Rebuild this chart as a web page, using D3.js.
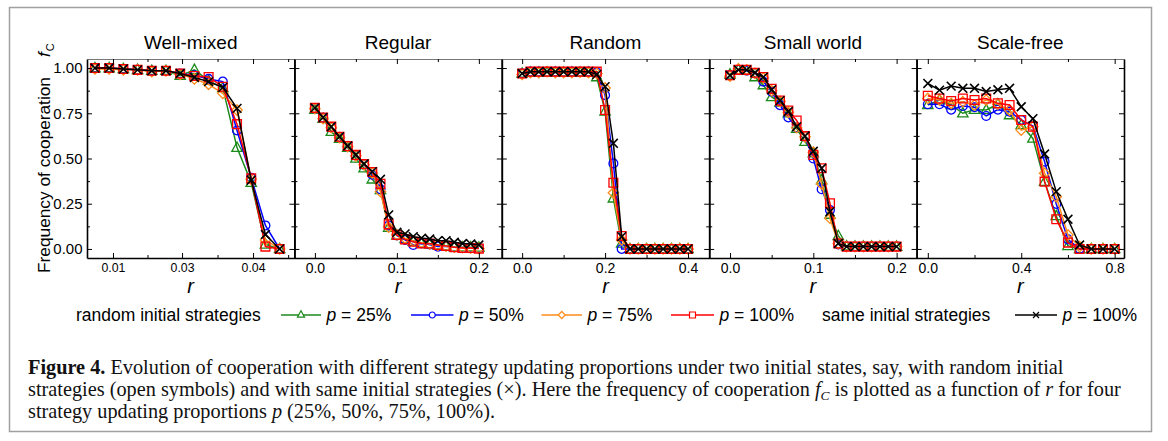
<!DOCTYPE html>
<html>
<head>
<meta charset="utf-8">
<script src="https://cdn.jsdelivr.net/npm/d3@7"></script>
<style>
  body { margin: 0; background: #fff; }
  svg { display: block; font-family: "Liberation Sans", Arial, sans-serif; }
</style>
</head>
<body>
<div id="chart"></div>
<script>
// ---- data ----
var panelNames = ["Well-mixed", "Regular", "Random", "Small world", "Scale-free"];

// well-mixed points sit evenly spaced, so they are indexed by position
var wmR = [0, 1, 2, 3, 4, 5, 6, 7, 8, 9, 10, 11, 12, 13];
var wmTickPos = [1.27, 6.13, 11.13];
var wmTickLabels = ["0.01", "0.03", "0.04"];
var wmMinorPos = [3.7, 8.63, 13.6];
var wmP25 = [1.00, 1.00, 0.995, 0.99, 0.985, 0.985, 0.958, 0.99, 0.93, 0.89, 0.56, 0.366, 0.025, 0.0];
var wmP50 = [1.00, 1.00, 0.995, 0.99, 0.985, 0.985, 0.97, 0.96, 0.94, 0.925, 0.655, 0.394, 0.13, 0.0];
var wmP75 = [0.995, 0.995, 0.99, 0.99, 0.98, 0.985, 0.965, 0.94, 0.91, 0.86, 0.768, 0.385, 0.05, 0.0];
var wmP100 = [1.00, 1.00, 0.995, 0.99, 0.985, 0.985, 0.97, 0.956, 0.95, 0.897, 0.69, 0.39, 0.013, 0.0];
var wmSame = [1.00, 1.00, 0.995, 0.99, 0.985, 0.985, 0.97, 0.948, 0.925, 0.893, 0.777, 0.38, 0.08, 0.0];

var regR = [0, 0.01, 0.02, 0.03, 0.04, 0.05, 0.06, 0.07, 0.08, 0.09, 0.10, 0.11, 0.12, 0.13, 0.14, 0.15, 0.16, 0.17, 0.18, 0.19, 0.20];
var regP25 = [0.77, 0.72, 0.648, 0.61, 0.56, 0.50, 0.446, 0.385, 0.326, 0.118, 0.075, 0.055, 0.04, 0.03, 0.025, 0.02, 0.015, 0.01, 0.01, 0.01, 0.008];
var regP50 = [0.775, 0.725, 0.672, 0.618, 0.565, 0.515, 0.465, 0.41, 0.33, 0.13, 0.075, 0.05, 0.022, 0.03, 0.025, 0.013, 0.015, 0.01, 0.008, 0.006, 0.004];
var regP75 = [0.775, 0.72, 0.67, 0.615, 0.565, 0.515, 0.465, 0.42, 0.317, 0.12, 0.078, 0.06, 0.045, 0.035, 0.028, 0.02, 0.015, 0.01, 0.008, 0.005, 0.003];
var regP100 = [0.78, 0.727, 0.676, 0.62, 0.569, 0.52, 0.47, 0.425, 0.36, 0.136, 0.077, 0.053, 0.04, 0.031, 0.03, 0.022, 0.017, 0.01, 0.005, 0.005, 0.002];
var regSame = [0.78, 0.727, 0.676, 0.62, 0.569, 0.52, 0.47, 0.427, 0.385, 0.188, 0.092, 0.083, 0.068, 0.06, 0.055, 0.046, 0.046, 0.037, 0.03, 0.028, 0.022];

var rndR = [0, 0.02, 0.04, 0.06, 0.08, 0.10, 0.12, 0.14, 0.16, 0.18, 0.20, 0.22, 0.24, 0.26, 0.28, 0.30, 0.32, 0.34, 0.36, 0.38, 0.40];
var rndP25 = [0.97, 0.975, 0.975, 0.975, 0.975, 0.975, 0.975, 0.975, 0.975, 0.95, 0.76, 0.28, 0.03, 0, 0, 0, 0, 0, 0, 0, 0];
var rndP50 = [0.97, 0.98, 0.98, 0.98, 0.98, 0.978, 0.98, 0.98, 0.98, 0.975, 0.85, 0.473, 0.0, 0, 0, 0, 0, 0, 0, 0, 0];
var rndP75 = [0.965, 0.975, 0.975, 0.98, 0.975, 0.975, 0.975, 0.978, 0.975, 0.97, 0.89, 0.31, 0.05, 0, 0, 0, 0, 0, 0, 0, 0];
var rndP100 = [0.97, 0.98, 0.98, 0.98, 0.98, 0.98, 0.98, 0.98, 0.98, 0.98, 0.768, 0.366, 0.072, 0, 0, 0, 0, 0, 0, 0, 0];
var rndSame = [0.97, 0.98, 0.98, 0.98, 0.98, 0.98, 0.98, 0.98, 0.98, 0.965, 0.897, 0.584, 0.068, 0, 0, 0, 0, 0, 0, 0, 0];

var swR = [0, 0.01, 0.02, 0.03, 0.04, 0.05, 0.06, 0.07, 0.08, 0.09, 0.10, 0.11, 0.12, 0.13, 0.14, 0.15, 0.16, 0.17, 0.18, 0.19, 0.20];
var swP25 = [0.965, 0.99, 0.985, 0.95, 0.906, 0.84, 0.81, 0.75, 0.665, 0.593, 0.53, 0.38, 0.19, 0.072, 0.015, 0.013, 0.013, 0.013, 0.013, 0.013, 0.013];
var swP50 = [0.96, 0.99, 0.985, 0.97, 0.925, 0.87, 0.795, 0.727, 0.672, 0.62, 0.50, 0.33, 0.215, 0.025, 0.013, 0.013, 0.013, 0.013, 0.013, 0.013, 0.013];
var swP75 = [0.955, 0.995, 0.99, 0.97, 0.945, 0.875, 0.815, 0.755, 0.67, 0.62, 0.535, 0.36, 0.17, 0.03, 0.013, 0.013, 0.013, 0.013, 0.013, 0.013, 0.013];
var swP100 = [0.96, 0.99, 0.99, 0.974, 0.95, 0.885, 0.82, 0.765, 0.71, 0.624, 0.52, 0.446, 0.252, 0.03, 0.013, 0.013, 0.013, 0.013, 0.013, 0.013, 0.013];
var swSame = [0.96, 0.99, 0.99, 0.974, 0.95, 0.88, 0.82, 0.76, 0.676, 0.624, 0.54, 0.446, 0.206, 0.03, 0.013, 0.013, 0.013, 0.013, 0.013, 0.013, 0.013];

var sfR = [0, 0.05, 0.10, 0.15, 0.20, 0.25, 0.30, 0.35, 0.40, 0.45, 0.50, 0.55, 0.60, 0.65, 0.70, 0.75, 0.80];
var sfP25 = [0.796, 0.823, 0.796, 0.75, 0.77, 0.768, 0.80, 0.74, 0.685, 0.611, 0.372, 0.182, 0.017, 0.0, 0, 0, 0];
var sfP50 = [0.80, 0.80, 0.77, 0.79, 0.783, 0.735, 0.77, 0.759, 0.713, 0.68, 0.483, 0.249, 0.053, 0.0, 0, 0, 0];
var sfP75 = [0.832, 0.823, 0.805, 0.814, 0.796, 0.823, 0.80, 0.768, 0.657, 0.676, 0.418, 0.289, 0.077, 0.013, 0, 0, 0];
var sfP100 = [0.847, 0.832, 0.818, 0.832, 0.823, 0.832, 0.805, 0.796, 0.713, 0.676, 0.372, 0.164, 0.035, 0.0, 0, 0, 0];
var sfSame = [0.915, 0.878, 0.90, 0.888, 0.888, 0.87, 0.88, 0.888, 0.786, 0.72, 0.525, 0.317, 0.164, 0.022, 0, 0, 0];

var yTicks = [0, 0.25, 0.5, 0.75, 1];
var yMinor = [0.125, 0.375, 0.625, 0.875];

var legendLabels = ["p = 25%", "p = 50%", "p = 75%", "p = 100%", "p = 100%"];

// ---- styles ----
var seriesStyle = [
    { color: "#1b8a1b", shape: "triangle", size: 5.2 },
    { color: "#0000ff", shape: "circle", size: 4.4 },
    { color: "#ff8c1a", shape: "diamond", size: 5.2 },
    { color: "#ff0000", shape: "square", size: 4.4 },
    { color: "#000000", shape: "cross", size: 4.4 }
];

var panels = [
    { r: wmR, domain: [-0.56, 14.04], ticks: wmTickPos, labels: wmTickLabels, minor: wmMinorPos, fs: 12.3,
      series: [wmP25, wmP50, wmP75, wmP100, wmSame] },
    { r: regR, domain: [-0.025, 0.228], ticks: [0, 0.1, 0.2], minor: [0.05, 0.15], fmt: ".1f", fs: 14,
      series: [regP25, regP50, regP75, regP100, regSame] },
    { r: rndR, domain: [-0.049, 0.451], ticks: [0, 0.2, 0.4], minor: [0.1, 0.3], fmt: ".1f", fs: 14,
      series: [rndP25, rndP50, rndP75, rndP100, rndSame] },
    { r: swR, domain: [-0.025, 0.224], ticks: [0, 0.1, 0.2], minor: [0.05, 0.15], fmt: ".1f", fs: 14,
      series: [swP25, swP50, swP75, swP100, swSame] },
    { r: sfR, domain: [-0.048, 0.84], ticks: [0, 0.4, 0.8], minor: [0.2, 0.6], fmt: ".1f", fs: 14,
      series: [sfP25, sfP50, sfP75, sfP100, sfSame] }
];

// marker path centred at 0,0 with half size s
var marker = function (shape, s) {
    if (shape === "circle") {
        return "M" + s + ",0A" + s + "," + s + " 0 1,1 " + (-s) + ",0A" + s + "," + s + " 0 1,1 " + s + ",0Z";
    }
    if (shape === "square") {
        return "M" + (-s) + "," + (-s) + "H" + s + "V" + s + "H" + (-s) + "Z";
    }
    if (shape === "diamond") {
        return "M0," + (-s) + "L" + s + ",0L0," + s + "L" + (-s) + ",0Z";
    }
    if (shape === "triangle") {
        var h = s * 0.9;
        return "M0," + (-h - 1) + "L" + s + "," + (h - 1) + "L" + (-s) + "," + (h - 1) + "Z";
    }
    return "M" + (-s) + "," + (-s) + "L" + s + "," + s + "M" + (-s) + "," + s + "L" + s + "," + (-s);
};

var W = 1168, H = 441;
var margin = { top: 59, bottom: 258, left: 87 };
var panelW = 207.4;

var svg = d3.select("#chart").append("svg")
    .attr("width", W)
    .attr("height", H);

// outer frame of the figure box
svg.append("rect")
    .attr("x", 9.5).attr("y", 7.5)
    .attr("width", 1142).attr("height", 424)
    .attr("fill", "none")
    .attr("stroke", "#a0a0a0")
    .attr("stroke-width", 1.5);

var y = d3.scaleLinear().domain([-0.05, 1.05]).range([margin.bottom, margin.top]);

var styleAxis = function (g, fs) {
    g.attr("font-family", null).attr("font-size", fs);
    g.select(".domain").attr("stroke", "#000").attr("stroke-width", 1.6);
    g.selectAll(".tick line").attr("stroke", "#000").attr("stroke-width", 1);
    g.selectAll(".tick text").attr("fill", "#000");
};

panels.forEach(function (p, i) {
    var x0 = margin.left + i * panelW;
    var x = d3.scaleLinear().domain(p.domain).range([x0, x0 + panelW]);
    var g = svg.append("g").attr("class", "panel");

    // series lines and open markers
    p.series.forEach(function (vals, k) {
        var st = seriesStyle[k];
        var pts = p.r.map(function (r, j) { return [r, vals[j]]; });
        g.append("path")
            .datum(pts)
            .attr("fill", "none")
            .attr("stroke", st.color)
            .attr("stroke-width", 1.5)
            .attr("d", d3.line().x(function (d) { return x(d[0]); }).y(function (d) { return y(d[1]); }));
        g.append("g").selectAll("path")
            .data(pts)
            .join("path")
            .attr("transform", function (d) { return "translate(" + x(d[0]) + "," + y(d[1]) + ")"; })
            .attr("d", marker(st.shape, st.size))
            .attr("fill", "none")
            .attr("stroke", st.color)
            .attr("stroke-width", k === 4 ? 1.6 : 1.3);
    });

    var fmt = p.labels ? function (d, j) { return p.labels[j]; } : d3.format(p.fmt);

    // bottom axis with inward ticks
    var gb = g.append("g").attr("transform", "translate(0," + margin.bottom + ")")
        .call(d3.axisBottom(x).tickValues(p.ticks).tickFormat(fmt).tickSizeInner(-5).tickSizeOuter(0).tickPadding(5.5));
    styleAxis(gb, p.fs);
    g.append("g").attr("transform", "translate(0," + margin.bottom + ")")
        .call(d3.axisBottom(x).tickValues(p.minor).tickFormat("").tickSizeInner(-3).tickSizeOuter(0))
        .call(function (a) { a.select(".domain").remove(); a.selectAll("line").attr("stroke", "#000"); });

    // top frame with inward ticks
    var gt = g.append("g").attr("transform", "translate(0," + margin.top + ")")
        .call(d3.axisTop(x).tickValues(p.ticks).tickFormat("").tickSizeInner(-5).tickSizeOuter(0));
    styleAxis(gt, p.fs);
    gt.select(".domain").attr("stroke", "#777").attr("stroke-width", 1.2);
    g.append("g").attr("transform", "translate(0," + margin.top + ")")
        .call(d3.axisTop(x).tickValues(p.minor).tickFormat("").tickSizeInner(-3).tickSizeOuter(0))
        .call(function (a) { a.select(".domain").remove(); a.selectAll("line").attr("stroke", "#000"); });

    // left and right frames
    [["left", x0], ["right", x0 + panelW]].forEach(function (side) {
        var ax = side[0] === "left" ? d3.axisLeft(y) : d3.axisRight(y);
        var ga = g.append("g").attr("transform", "translate(" + side[1] + ",0)")
            .call(ax.tickValues(yTicks).tickSizeInner(-5).tickSizeOuter(0).tickPadding(4.5)
                .tickFormat(i === 0 && side[0] === "left" ? d3.format(".2f") : ""));
        styleAxis(ga, 15);
        g.append("g").attr("transform", "translate(" + side[1] + ",0)")
            .call((side[0] === "left" ? d3.axisLeft(y) : d3.axisRight(y))
                .tickValues(yMinor).tickFormat("").tickSizeInner(-3).tickSizeOuter(0))
            .call(function (a) { a.select(".domain").remove(); a.selectAll("line").attr("stroke", "#000"); });
    });

    // title and r label
    g.append("text")
        .attr("x", x0 + panelW / 2).attr("y", 49)
        .attr("text-anchor", "middle")
        .attr("font-size", 19)
        .text(panelNames[i]);
    g.append("text")
        .attr("x", x0 + panelW / 2).attr("y", 293)
        .attr("text-anchor", "middle")
        .attr("font-size", 20)
        .attr("font-style", "italic")
        .text("r");
});

// y axis title (rotated), with f_C at its end
var yl = svg.append("text")
    .attr("transform", "translate(50,273) rotate(-90)")
    .attr("font-size", 17.3);
yl.append("tspan").text("Frequency of cooperation");
yl.append("tspan").attr("dx", 20).attr("font-style", "italic").text("f");
yl.append("tspan").attr("font-size", 11).attr("dy", 4).attr("dx", 1).text("C");

// legend
var legend = svg.append("g").attr("font-size", 17.5);
var legY = 315;
legend.append("text").attr("x", 76).attr("y", legY + 6).text("random initial strategies");
legend.append("text").attr("x", 822).attr("y", legY + 6).text("same initial strategies");
var legLines = [[281, 321], [411, 453.5], [541.5, 582], [671, 714], [1015, 1057]];
legLines.forEach(function (l, k) {
    var st = seriesStyle[k];
    legend.append("line")
        .attr("x1", l[0]).attr("x2", l[1]).attr("y1", legY).attr("y2", legY)
        .attr("stroke", st.color).attr("stroke-width", 1.5);
    legend.append("path")
        .attr("transform", "translate(" + ((l[0] + l[1]) / 2) + "," + legY + ")")
        .attr("d", marker(st.shape, st.size * 0.68))
        .attr("fill", "#fff")
        .attr("stroke", st.color)
        .attr("stroke-width", 1.2);
    var t = legend.append("text").attr("x", l[1] + 5.5).attr("y", legY + 6);
    var parts = legendLabels[k].split(" ");
    t.append("tspan").attr("font-style", "italic").text(parts[0]);
    t.append("tspan").text(" " + parts.slice(1).join(" "));
});

// caption
var cap = svg.append("g")
    .attr("font-family", "'Liberation Serif', 'Times New Roman', serif")
    .attr("font-size", 20.3)
    .attr("fill", "#111");
var l1 = cap.append("text").attr("x", 28).attr("y", 374);
l1.append("tspan").attr("font-weight", "bold").text("Figure 4.");
l1.append("tspan").text(" Evolution of cooperation with different strategy updating proportions under two initial states, say, with random initial");
var l2 = cap.append("text").attr("x", 28).attr("y", 396);
l2.append("tspan").text("strategies (open symbols) and with same initial strategies (\u00d7). Here the frequency of cooperation ");
l2.append("tspan").attr("font-style", "italic").text("f");
l2.append("tspan").attr("font-style", "italic").attr("font-size", 13.5).attr("dy", 4).text("C");
l2.append("tspan").attr("dy", -4).text(" is plotted as a function of ");
l2.append("tspan").attr("font-style", "italic").text("r");
l2.append("tspan").text(" for four");
var l3 = cap.append("text").attr("x", 28).attr("y", 418);
l3.append("tspan").text("strategy updating proportions ");
l3.append("tspan").attr("font-style", "italic").text("p");
l3.append("tspan").text(" (25%, 50%, 75%, 100%).");
</script>
</body>
</html>
